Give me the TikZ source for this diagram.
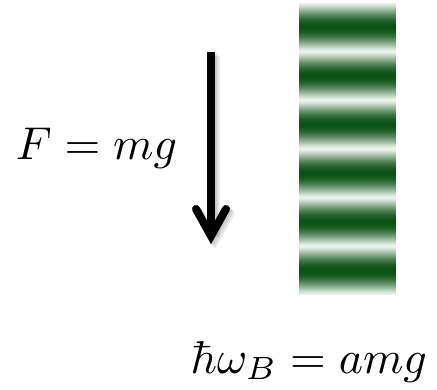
\documentclass[tikz,border=0pt]{standalone}
\usepackage{xcolor}
\usepackage{tikz}
\usetikzlibrary{calc,positioning}
\definecolor{stripedark}{HTML}{0B5214}
\definecolor{stripelight}{HTML}{F2F7F2}
\definecolor{arrowshade}{HTML}{8C8C8C}

\begin{document}
\begin{tikzpicture}[
  x=1pt,
  y=1pt,
  shaft/.style={
    draw=black,
    line width=8pt,
    line cap=butt
  },
  chevron/.style={
    draw=black,
    line width=8pt,
    line cap=round,
    line join=miter
  },
  shade/.style={
    draw=arrowshade,
    opacity=0.18
  },
  formula/.style={
    inner sep=0pt,
    font=\fontsize{10}{12}\selectfont,
    scale=4.6,
    transform shape
  }
]

\useasboundingbox (0,0) rectangle (437,389);

% Arrow end points
\coordinate (arrowtop)  at (211,337);
\coordinate (arrowfoot) at (211,156);
\coordinate (tipleft)   at (196,180);
\coordinate (tip)       at (211,153);
\coordinate (tipright)  at (226,180);

% Soft shadow
\foreach \d in {1.5,3,4.5} {
  \draw[shaft,shade] ($(arrowtop)+(\d,-\d)$) -- ($(arrowfoot)+(\d,-\d)$);
  \draw[chevron,shade] ($(tipleft)+(\d,-\d)$) -- ($(tip)+(\d,-\d)$) -- ($(tipright)+(\d,-\d)$);
}

% Arrow
\draw[shaft] (arrowtop) -- (arrowfoot);
\draw[chevron] (tipleft) -- (tip) -- (tipright);

% Striped bar
\foreach \i in {0,...,291} {
  \pgfmathsetmacro{\dk}{100*(0.002+0.498-0.498*cos((\i+0.5)*7.39726))^0.6}
  \fill[stripedark!\dk!stripelight] (299,386-\i) rectangle (396,384.8-\i);
}

% Labels
\node[formula,anchor=base west] (force)  at (15,230) {$F = mg$};
\node[formula,anchor=base east] (energy) at (428,16) {$\hbar\omega_B = amg$};

\end{tikzpicture}
\end{document}
